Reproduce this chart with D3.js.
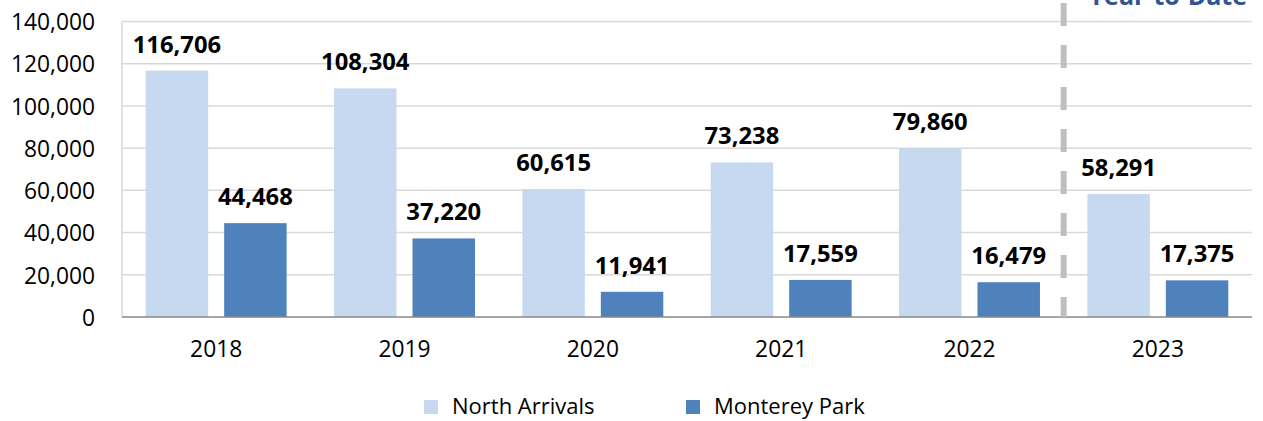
<!DOCTYPE html>
<html>
<head>
<meta charset="utf-8">
<script src="https://cdn.jsdelivr.net/npm/d3@7"></script>
<style>
  body { margin: 0; background: #fff; }
  text { font-family: "Open Sans", "Noto Sans", sans-serif; fill: #000; }
</style>
</head>
<body>
<div id="chart"></div>
<script>
//chart data
var years = ["2018", "2019", "2020", "2021", "2022", "2023"];
var seriesNames = ["North Arrivals", "Monterey Park"];
var northArrivals = [116706, 108304, 60615, 73238, 79860, 58291];
var montereyPark = [44468, 37220, 11941, 17559, 16479, 17375];
var yTicks = [0, 20000, 40000, 60000, 80000, 100000, 120000, 140000];
var ytdStart = "2023";

var colors = ["#c6d9f0", "#4f81bd"];

//svg dimensions
var svgWidth = 1263;
var svgHeight = 421;

//plot area inside svg
var plot = { left: 122, right: 1252, top: 21.5, bottom: 317 };

var svg = d3.select("#chart")
    .append("svg")
    .attr("width", svgWidth)
    .attr("height", svgHeight);

//build rows for grouped bars
var rows = years.map(function(y, i) {
    return { year: y, values: [northArrivals[i], montereyPark[i]] };
});

//scales
var xScale = d3.scaleBand()
    .domain(years)
    .range([plot.left, plot.right]);

var xSub = d3.scaleBand()
    .domain(seriesNames)
    .range([0, xScale.bandwidth()])
    .paddingInner(0.204)
    .paddingOuter(0.302);

var yScale = d3.scaleLinear()
    .domain([0, 140000])
    .range([plot.bottom, plot.top]);

var fmt = d3.format(",");

//gridlines
svg.append("g")
    .selectAll("line")
    .data(yTicks.filter(d => d > 0))
    .enter()
    .append("line")
    .attr("x1", plot.left)
    .attr("x2", plot.right)
    .attr("y1", d => yScale(d))
    .attr("y2", d => yScale(d))
    .attr("stroke", "#d9d9d9")
    .attr("stroke-width", 1.5);

//left vertical line
svg.append("line")
    .attr("x1", plot.left)
    .attr("x2", plot.left)
    .attr("y1", plot.top)
    .attr("y2", plot.bottom)
    .attr("stroke", "#d9d9d9")
    .attr("stroke-width", 1.5);

//y axis labels
var leftAxis = d3.axisLeft(yScale)
    .tickValues(yTicks)
    .tickFormat(fmt)
    .tickSize(0)
    .tickPadding(27);

var yAxis = svg.append("g")
    .attr("transform", `translate(${plot.left}, 0)`)
    .call(leftAxis);
yAxis.select(".domain").remove();
yAxis.selectAll("text")
    .attr("font-size", "22.8px")
    .attr("font-family", null)
    .attr("dy", "0.36em")
    .attr("fill", "#000");

//bars
var groups = svg.append("g")
    .selectAll("g")
    .data(rows)
    .enter()
    .append("g")
    .attr("transform", d => `translate(${xScale(d.year)}, 0)`);

groups.selectAll("rect")
    .data(d => d.values.map((v, i) => ({ name: seriesNames[i], value: v, idx: i })))
    .enter()
    .append("rect")
    .attr("x", d => xSub(d.name))
    .attr("width", xSub.bandwidth())
    .attr("y", d => yScale(d.value))
    .attr("height", d => plot.bottom - yScale(d.value))
    .attr("fill", d => colors[d.idx]);

//bar labels
groups.selectAll("text")
    .data(d => d.values.map((v, i) => ({ name: seriesNames[i], value: v })))
    .enter()
    .append("text")
    .attr("x", d => xSub(d.name) + xSub.bandwidth() / 2)
    .attr("y", d => yScale(d.value) - 18)
    .attr("text-anchor", "middle")
    .attr("font-size", "23.8px")
    .attr("font-weight", "bold")
    .text(d => fmt(d.value));

//x axis baseline
svg.append("line")
    .attr("x1", plot.left)
    .attr("x2", plot.right)
    .attr("y1", plot.bottom)
    .attr("y2", plot.bottom)
    .attr("stroke", "#898989")
    .attr("stroke-width", 1.5);

//x axis labels
var bottomAxis = d3.axisBottom(xScale)
    .tickSize(0)
    .tickPadding(24);

var xAxis = svg.append("g")
    .attr("transform", `translate(0, ${plot.bottom})`)
    .call(bottomAxis);
xAxis.select(".domain").remove();
xAxis.selectAll("text")
    .attr("font-size", "22.8px")
    .attr("font-family", null)
    .attr("fill", "#000");

//year to date divider
var ytdX = xScale(ytdStart);
svg.append("line")
    .attr("x1", ytdX)
    .attr("x2", ytdX)
    .attr("y1", 3)
    .attr("y2", plot.bottom)
    .attr("stroke", "#bfbfbf")
    .attr("stroke-width", 6)
    .attr("stroke-dasharray", "23,19");

svg.append("text")
    .attr("x", 1247)
    .attr("y", 5)
    .attr("text-anchor", "end")
    .attr("font-size", "25px")
    .attr("font-weight", "bold")
    .style("fill", "#2f5597")
    .text("Year-to-Date");

//legend
var legendX = [424, 686];
var legend = svg.append("g")
    .selectAll("g")
    .data(seriesNames)
    .enter()
    .append("g")
    .attr("transform", (d, i) => `translate(${legendX[i]}, 400)`);

legend.append("rect")
    .attr("width", 14)
    .attr("height", 14)
    .attr("fill", (d, i) => colors[i]);

legend.append("text")
    .attr("x", 28)
    .attr("y", 14)
    .attr("font-size", "22px")
    .text(d => d);
</script>
</body>
</html>
